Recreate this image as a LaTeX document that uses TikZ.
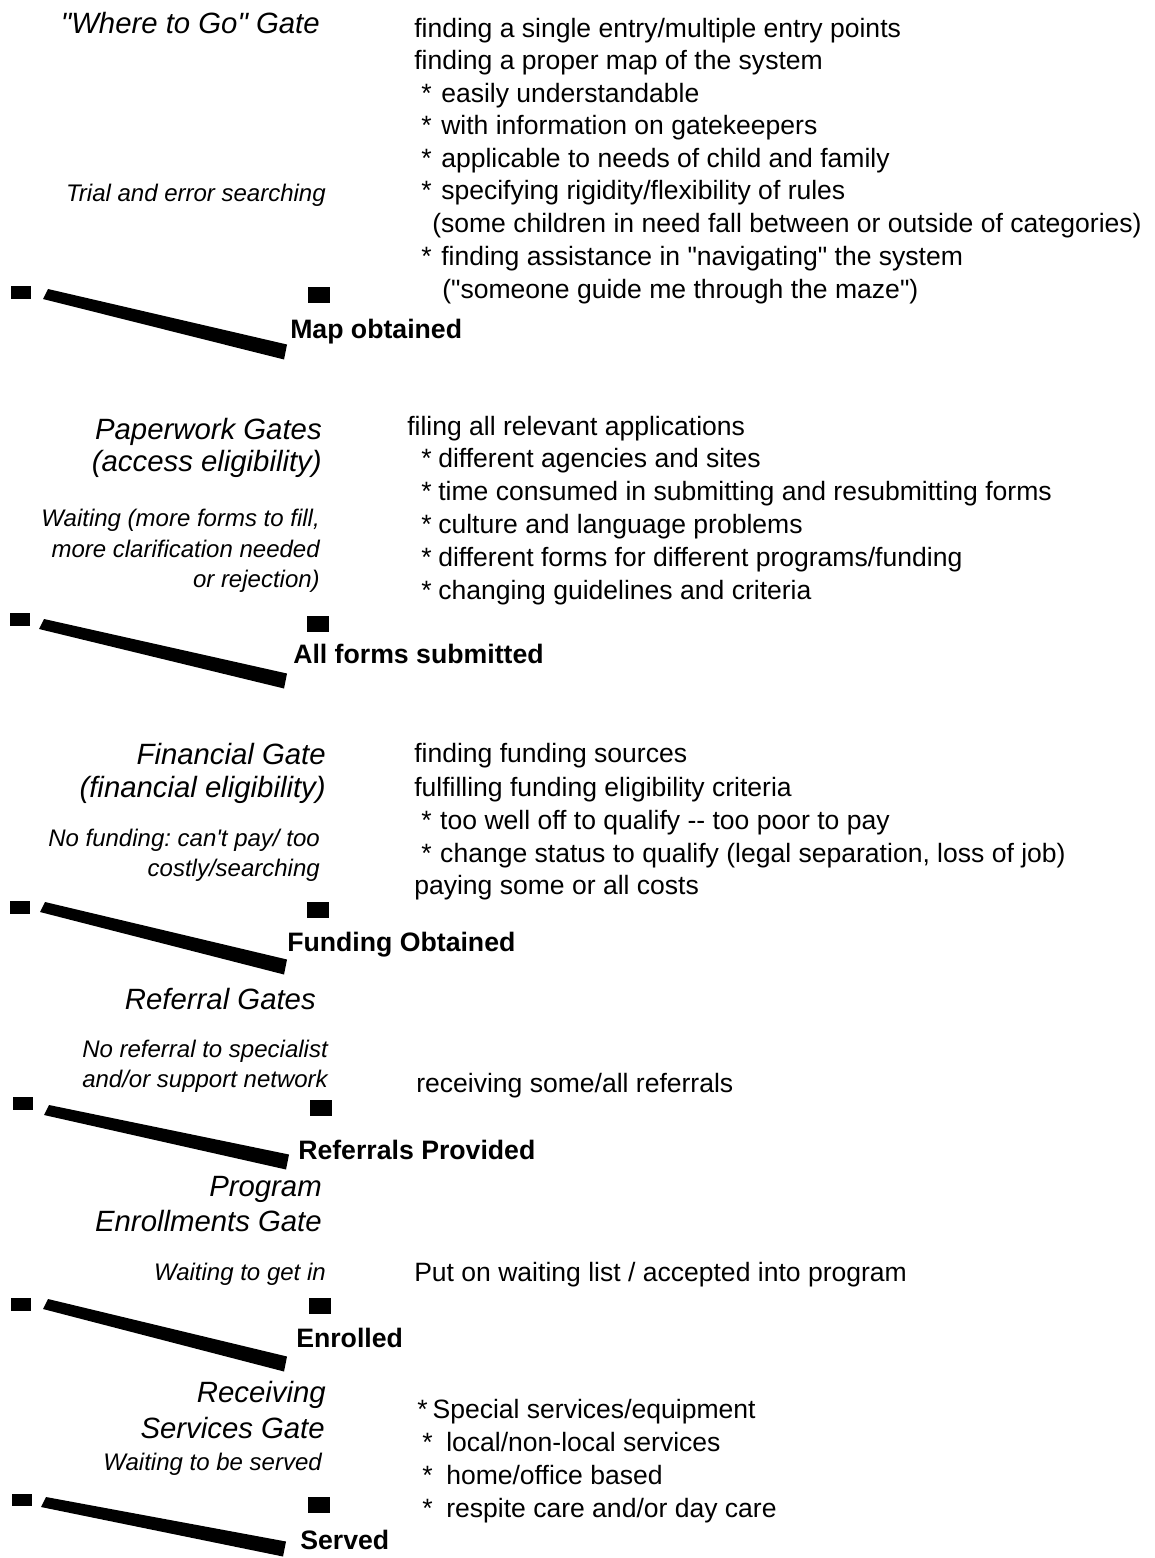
\documentclass[tikz,border=0pt]{standalone}
\usepackage{fontspec}
\setmainfont{Liberation Sans}[Ligatures=TeXOff]
% bullet line: asterisk in a box of width #1, then the text
\newcommand\bul[2]{\makebox[#1][l]{*}#2}
% slanted gate bar from left end (#1,#2) to right end (#3,#4)
\newcommand\gatebar[4]{\fill (#1+3,#2-5) -- (#3+2,#4-7.5) -- (#3-1,#4+7.5) -- (#1-2,#2+5) -- cycle;}
\begin{document}
\frenchspacing
\begin{tikzpicture}[x=0.75pt,y=-0.75pt,
  body/.style={font=\fontsize{19.9pt}{24pt}\selectfont, inner sep=0pt, anchor=mid west, yshift=-4.5pt},
  gatetitle/.style={font=\fontsize{22pt}{26pt}\selectfont\itshape, inner sep=0pt, anchor=mid east, yshift=-4.5pt},
  gatenote/.style={font=\fontsize{18pt}{22pt}\selectfont\itshape, inner sep=0pt, anchor=mid east, yshift=-4.5pt},
  passlabel/.style={font=\fontsize{20pt}{24pt}\selectfont\bfseries, inner sep=0pt, anchor=base west},
  postL/.style={fill=black, draw=none, inner sep=0pt, minimum width=15pt, minimum height=9.5pt},
  postR/.style={fill=black, draw=none, inner sep=0pt, minimum width=16.5pt, minimum height=12pt},
]
\fill[white] (0,0) rectangle (1155,1558);
\useasboundingbox (0,0) rectangle (1155,1558);

% ---------- "Where to Go" gate ----------
\node[gatetitle] (t1) at (320,24) {"Where to Go" Gate};
\node[gatenote] (n1) at (326,192) {Trial and error searching};
\node[body] (a1) at (414,28) {finding a single entry/multiple entry points};
\node[body] (a2) at (414,60) {finding a proper map of the system};
\node[body] (a3) at (421,93) {\bul{15pt}{easily understandable}};
\node[body] (a4) at (421,125) {\bul{15pt}{with information on gatekeepers}};
\node[body] (a5) at (421,158) {\bul{15pt}{applicable to needs of child and family}};
\node[body] (a6) at (421,190) {\bul{15pt}{specifying rigidity/flexibility of rules}};
\node[body] (a7) at (432,223) {(some children in need fall between or outside of categories)};
\node[body] (a8) at (421,256) {\bul{15pt}{finding assistance in "navigating" the system}};
\node[body] (a9) at (442,289) {("someone guide me through the maze")};
\node[postL] (p1a) at (21,292.5) {};
\node[postR] (p1b) at (319,295.5) {};
\gatebar{45}{294}{285}{352}
\node[passlabel] (g1) at (290,338) {Map obtained};

% ---------- Paperwork gates ----------
\node[gatetitle] (t2) at (322,430) {Paperwork Gates};
\node[gatetitle] (t2b) at (322,462) {(access eligibility)};
\node[gatenote] (n2) at (320,517) {Waiting (more forms to fill,};
\node[gatenote] (n2b) at (320,548) {more clarification needed};
\node[gatenote] (n2c) at (320,578) {or rejection)};
\node[body] (b1) at (407,426) {filing all relevant applications};
\node[body] (b2) at (421,458) {\bul{12.75pt}{different agencies and sites}};
\node[body] (b3) at (421,491) {\bul{12.75pt}{time consumed in submitting and resubmitting forms}};
\node[body] (b4) at (421,524) {\bul{12.75pt}{culture and language problems}};
\node[body] (b5) at (421,557) {\bul{12.75pt}{different forms for different programs/funding}};
\node[body] (b6) at (421,590) {\bul{12.75pt}{changing guidelines and criteria}};
\node[postL] (p2a) at (20,619.5) {};
\node[postR] (p2b) at (317.5,624) {};
\gatebar{41}{624}{285}{681}
\node[passlabel] (g2) at (293,663) {All forms submitted};

% ---------- Financial gate ----------
\node[gatetitle] (t3) at (326,755) {Financial Gate};
\node[gatetitle] (t3b) at (326,788) {(financial eligibility)};
\node[gatenote] (n3) at (320,837) {No funding: can't pay/ too};
\node[gatenote] (n3b) at (320,867) {costly/searching};
\node[body] (c1) at (414,753) {finding funding sources};
\node[body] (c2) at (414,787) {fulfilling funding eligibility criteria};
\node[body] (c3) at (421,820) {\bul{14.25pt}{too well off to qualify -- too poor to pay}};
\node[body] (c4) at (421,853) {\bul{14.25pt}{change status to qualify (legal separation, loss of job)}};
\node[body] (c5) at (414,885) {paying some or all costs};
\node[postL] (p3a) at (20,907.5) {};
\node[postR] (p3b) at (318,909.5) {};
\gatebar{42}{907}{285}{967}
\node[passlabel] (g3) at (287,951) {Funding Obtained};

% ---------- Referral gates ----------
\node[gatetitle] (t4) at (316,1000) {Referral Gates};
\node[gatenote] (n4) at (328,1048) {No referral to specialist};
\node[gatenote] (n4b) at (328,1078) {and/or support network};
\node[body] (d1) at (416,1083) {receiving some/all referrals};
\node[postL] (p4a) at (23,1103.5) {};
\node[postR] (p4b) at (321,1108) {};
\gatebar{46}{1110}{287}{1162}
\node[passlabel] (g4) at (298,1159) {Referrals Provided};

% ---------- Program enrollments gate ----------
\node[gatetitle] (t5) at (322,1187) {Program};
\node[gatetitle] (t5b) at (322,1222) {Enrollments Gate};
\node[gatenote] (n5) at (326,1271) {Waiting to get in};
\node[body] (e1) at (414,1272) {Put on waiting list / accepted into program};
\node[postL] (p5a) at (21,1304.5) {};
\node[postR] (p5b) at (320,1305.5) {};
\gatebar{45}{1304}{285}{1364}
\node[passlabel] (g5) at (296,1347) {Enrolled};

% ---------- Receiving services gate ----------
\node[gatetitle] (t6) at (326,1393) {Receiving};
\node[gatetitle] (t6b) at (325,1429) {Services Gate};
\node[gatenote] (n6) at (322,1461) {Waiting to be served};
\node[body] (f1) at (417,1409) {\bul{11.5pt}{Special services/equipment}};
\node[body] (f2) at (422,1442) {\bul{18pt}{local/non-local services}};
\node[body] (f3) at (422,1475) {\bul{18pt}{home/office based}};
\node[body] (f4) at (422,1508) {\bul{18pt}{respite care and/or day care}};
\node[postL] (p6a) at (22,1500) {};
\node[postR] (p6b) at (319,1505) {};
\gatebar{43}{1502}{284}{1549}
\node[passlabel] (g6) at (300,1549) {Served};
\end{tikzpicture}
\end{document}
